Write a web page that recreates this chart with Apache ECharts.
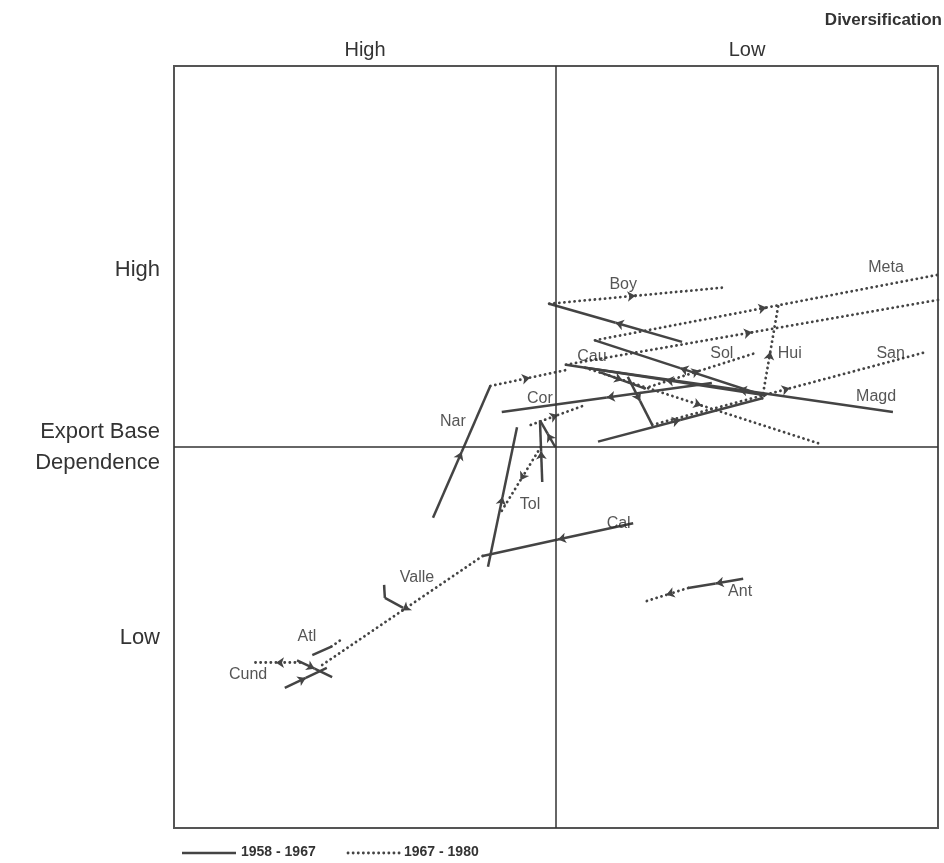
<!DOCTYPE html>
<html>
<head>
<meta charset="utf-8">
<script src="https://cdn.jsdelivr.net/npm/echarts@6/dist/echarts.min.js"></script>
<style>
  html, body { margin: 0; background: #fff; }
  #chart { width: 944px; height: 863px; }
</style>
</head>
<body>
<div id="chart"></div>
<script>
// both axes run 0-100, crossing at 50
// one row per segment: department, x1, y1, x2, y2
var period1 = [ // 1958 - 1967, solid
  ['Boy', 66.5, 63.8, 49.1, 68.8],
  ['Meta', 77.4, 56.7, 55.1, 64.0],
  ['Cau', 77.4, 56.8, 51.3, 60.8],
  ['Magd', 94.1, 54.6, 53.8, 60.4],
  ['Hui', 55.5, 50.7, 77.0, 56.4],
  ['San', 59.4, 59.2, 62.6, 52.9],
  ['Sol', 55.8, 59.8, 61.6, 57.7],
  ['Cor', 70.4, 58.4, 42.9, 54.6],
  ['Nar', 33.9, 40.7, 41.4, 58.0],
  ['Tol', 48.2, 45.4, 47.9, 53.5],
  ['Tol', 49.9, 50.0, 47.9, 53.5],
  ['', 41.1, 34.3, 44.9, 52.6],
  ['Cal', 60.1, 40.0, 40.4, 35.7],
  ['Valle', 27.5, 31.9, 27.6, 30.2],
  ['Valle', 27.6, 30.2, 30.0, 28.9],
  ['Atl', 18.1, 22.7, 20.6, 23.8],
  ['Cund', 14.5, 18.4, 20.0, 21.0],
  ['Cund', 16.1, 22.0, 20.7, 19.8],
  ['Ant', 74.5, 32.7, 67.3, 31.5]
];
var period2 = [ // 1967 - 1980, dotted
  ['Boy', 49.1, 68.8, 71.7, 70.9],
  ['Meta', 55.1, 64.0, 100, 72.6],
  ['Cau', 51.3, 60.8, 100, 69.3],
  ['Magd', 53.8, 60.4, 84.3, 50.5],
  ['Hui', 77.0, 56.4, 79.1, 68.6],
  ['San', 62.6, 52.9, 98.6, 62.5],
  ['Sol', 61.6, 57.7, 76.0, 62.3],
  ['Nar', 41.4, 58.0, 51.8, 60.2],
  ['Tol', 48.0, 50.0, 42.7, 41.3],
  ['', 46.7, 52.9, 53.8, 55.5],
  ['Cal', 40.4, 35.7, 19.4, 21.4],
  ['Atl', 20.6, 23.8, 22.0, 24.8],
  ['Cund', 16.5, 21.7, 10.2, 21.7],
  ['Ant', 67.3, 31.5, 61.6, 29.7]
];
var names = [
  [58.8, 71.3, 'Boy'], [93.2, 73.5, 'Meta'], [54.7, 61.9, 'Cau'],
  [71.7, 62.2, 'Sol'], [80.6, 62.3, 'Hui'], [93.8, 62.3, 'San'],
  [91.9, 56.6, 'Magd'], [47.9, 56.4, 'Cor'], [36.5, 53.3, 'Nar'],
  [46.6, 42.4, 'Tol'], [58.2, 40.0, 'Cal'], [31.8, 32.8, 'Valle'],
  [17.4, 25.1, 'Atl'], [9.7, 20.1, 'Cund'], [74.1, 31.0, 'Ant']
];
var xTickLabels = ['', 'High', '', 'Low', ''];
var yTickLabels = ['', 'Low', 'Export Base\nDependence', '{hi|High}', ''];
var periods = ['1958 - 1967', '1967 - 1980'];

var ink = '#444';
var font = 'Liberation Sans';

// split each segment at its middle, arrow head on the first half
function halves(segs) {
  var a = [], b = [];
  segs.forEach(function (s) {
    var len = Math.sqrt((s[3] - s[1]) * (s[3] - s[1]) + (s[4] - s[2]) * (s[4] - s[2]));
    if (len < 4) { b.push({ coords: [[s[1], s[2]], [s[3], s[4]]] }); return; }
    var mx = (s[1] + s[3]) / 2, my = (s[2] + s[4]) / 2;
    a.push({ coords: [[s[1], s[2]], [mx, my]] });
    b.push({ coords: [[mx, my], [s[3], s[4]]] });
  });
  return [a, b];
}
var h1 = halves(period1), h2 = halves(period2);
var solid = { color: ink, width: 2.5, type: 'solid', opacity: 1 };
var dotted = { color: ink, width: 2.8, type: [0.1, 5], cap: 'round', opacity: 1 };

var myChart = echarts.init(document.getElementById('chart'));
var option = {
  animation: false,
  backgroundColor: '#fff',
  grid: { left: 174, right: 6, top: 66, bottom: 35, show: true, borderColor: '#555', borderWidth: 2 },
  xAxis: {
    type: 'value', min: 0, max: 100, interval: 25, position: 'top',
    axisLine: { show: false }, axisTick: { show: false }, splitLine: { show: false },
    axisLabel: { formatter: function (v) { return xTickLabels[v / 25]; }, fontSize: 20, fontFamily: font, color: '#333', margin: 6 }
  },
  yAxis: {
    type: 'value', min: 0, max: 100, interval: 25,
    axisLine: { show: false }, axisTick: { show: false }, splitLine: { show: false },
    axisLabel: {
      formatter: function (v) { return yTickLabels[v / 25]; },
      fontSize: 22, lineHeight: 31, fontFamily: font, color: '#333', margin: 14,
      rich: { hi: { fontSize: 22, fontFamily: font, color: '#333', padding: [26, 0, 0, 0] } }
    }
  },
  graphic: [
    { type: 'text', right: 2, top: 12, style: { text: 'Diversification', font: 'bold 17px "Liberation Sans"', fill: '#333' } },
    { type: 'line', shape: { x1: 182, y1: 853, x2: 236, y2: 853 }, style: { stroke: ink, lineWidth: 2.4 } },
    { type: 'text', left: 241, top: 845, style: { text: periods[0], font: 'bold 14px "Liberation Sans"', fill: '#333' } },
    { type: 'line', shape: { x1: 348, y1: 853, x2: 400, y2: 853 }, style: { stroke: ink, lineWidth: 2.8, lineDash: [0.1, 5], lineCap: 'round' } },
    { type: 'text', left: 404, top: 845, style: { text: periods[1], font: 'bold 14px "Liberation Sans"', fill: '#333' } }
  ],
  series: [
    { type: 'lines', coordinateSystem: 'cartesian2d', symbol: ['none', 'arrow'], symbolSize: 8, lineStyle: solid, data: h1[0] },
    { type: 'lines', coordinateSystem: 'cartesian2d', symbol: 'none', lineStyle: solid, data: h1[1] },
    { type: 'lines', coordinateSystem: 'cartesian2d', symbol: ['none', 'arrow'], symbolSize: 8, lineStyle: dotted, data: h2[0] },
    { type: 'lines', coordinateSystem: 'cartesian2d', symbol: 'none', lineStyle: dotted, data: h2[1] },
    {
      type: 'scatter', symbolSize: 1, itemStyle: { color: 'rgba(0,0,0,0)' }, silent: true,
      data: names,
      label: { show: true, position: 'inside', formatter: function (p) { return p.data[2]; }, fontSize: 16, fontFamily: font, color: '#2a2a2a' },
      markLine: {
        silent: true, symbol: 'none', label: { show: false },
        lineStyle: { color: '#333', width: 1.5, type: 'solid' },
        data: [{ xAxis: 50 }, { yAxis: 50 }]
      }
    }
  ]
};
myChart.setOption(option);
</script>
</body>
</html>
